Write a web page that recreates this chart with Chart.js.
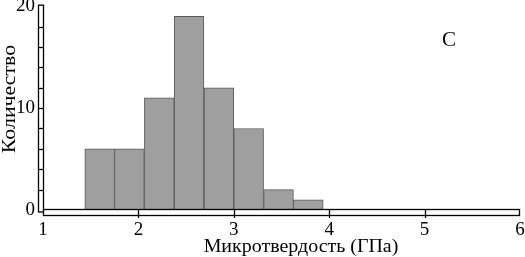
<!DOCTYPE html>
<html>
<head>
<meta charset="utf-8">
<script src="https://cdn.jsdelivr.net/npm/chart.js@4"></script>
<style>
  html, body { margin: 0; padding: 0; background: #fff; }
  #wrap { width: 525px; height: 257px; }
</style>
</head>
<body>
<div id="wrap"><canvas id="myChart" width="525" height="257"></canvas></div>
<script>
// histogram bins (GPa, bin centres) and counts
const binCenters = [1.594, 1.906, 2.219, 2.531, 2.844, 3.156, 3.469, 3.781];
const counts = [6, 6, 11, 19, 12, 8, 2, 1];
const xTicks = [1, 2, 3, 4, 5, 6];
const yTicks = [0, 10, 20];
const yMinor = [2, 4, 6, 8, 10, 12, 14, 16, 18];

const xTitle = 'Микротвердость (ГПа)';
const yTitle = 'Количество';
const panelLabel = 'C';

const serif = '"Liberation Serif", "DejaVu Serif", serif';

// hollow double-line axes like the original figure
const axesPlugin = {
  id: 'hollowAxes',
  afterDraw(chart) {
    const ctx = chart.ctx;
    const xs = chart.scales.x, ys = chart.scales.y;
    const x0 = xs.getPixelForValue(1), x6 = xs.getPixelForValue(6);
    const y0 = ys.getPixelForValue(0), y20 = ys.getPixelForValue(20);
    ctx.save();
    ctx.lineWidth = 1.3;
    ctx.strokeStyle = '#000';
    ctx.fillStyle = '#fff';
    // y axis bar
    ctx.fillRect(x0 - 4.5, y20 - 1, 5, y0 - y20 + 3);
    ctx.strokeRect(x0 - 4.5, y20 - 1, 5, y0 - y20 + 3);
    yMinor.forEach(v => {
      const p = Math.round(ys.getPixelForValue(v)) + 0.5;
      ctx.beginPath(); ctx.moveTo(x0 - 4.5, p); ctx.lineTo(x0 + 0.5, p); ctx.stroke();
    });
    // x axis bar
    ctx.fillRect(x0 + 0.5, y0 - 0.5, x6 - x0 - 1, 6);
    ctx.strokeRect(x0 + 0.5, y0 - 0.5, x6 - x0 - 1, 6);
    xTicks.slice(1, -1).forEach(v => {
      const p = Math.round(xs.getPixelForValue(v)) + 0.5;
      ctx.beginPath(); ctx.moveTo(p, y0 - 0.5); ctx.lineTo(p, y0 + 8); ctx.stroke();
    });
    // texts (the source font runs a bit wider than Liberation Serif)
    ctx.fillStyle = '#000';
    ctx.textAlign = 'center';
    ctx.textBaseline = 'middle';
    ctx.font = '19px ' + serif;
    ctx.save();
    ctx.translate(301, 247);
    ctx.scale(1.05, 1);
    ctx.fillText(xTitle, 0, 0);
    ctx.restore();
    ctx.font = '21px ' + serif;
    ctx.fillText(panelLabel, 449, 40);
    ctx.font = '19px ' + serif;
    ctx.translate(10, 99);
    ctx.rotate(-Math.PI / 2);
    ctx.scale(1.15, 1);
    ctx.fillText(yTitle, 0, 0);
    ctx.restore();
  }
};

let myChart = new Chart(document.getElementById('myChart'), {
  type: 'bar',
  data: {
    datasets: [{
      data: binCenters.map((c, i) => ({x: c, y: counts[i]})),
      backgroundColor: '#9f9f9f',
      borderColor: '#5a5a5a',
      borderWidth: 1,
      barPercentage: 1,
      categoryPercentage: 1
    }]
  },
  options: {
    responsive: false,
    animation: false,
    layout: { padding: { left: 0, right: 5, top: 6, bottom: 0 } },
    plugins: { legend: { display: false }, tooltip: { enabled: false } },
    scales: {
      x: {
        type: 'linear',
        min: 1, max: 6,
        offset: false,
        grid: { display: false, drawTicks: true, tickLength: 11, tickColor: 'rgba(0,0,0,0)', offset: false },
        border: { display: false },
        afterFit: s => { s.height = 47; },
        afterBuildTicks: s => { s.ticks = xTicks.map(v => ({value: v})); },
        ticks: { padding: 0, color: '#000', font: { family: serif, size: 19, lineHeight: 1 } }
      },
      y: {
        min: 0, max: 20,
        grid: { display: false, drawTicks: true, tickLength: 8, tickColor: 'rgba(0,0,0,0)' },
        border: { display: false },
        afterFit: s => { s.width = 43; },
        afterBuildTicks: s => { s.ticks = yTicks.map(v => ({value: v})); },
        ticks: { padding: 0, color: '#000', font: { family: serif, size: 19, lineHeight: 0.65 } }
      }
    }
  },
  plugins: [axesPlugin]
});
</script>
</body>
</html>
